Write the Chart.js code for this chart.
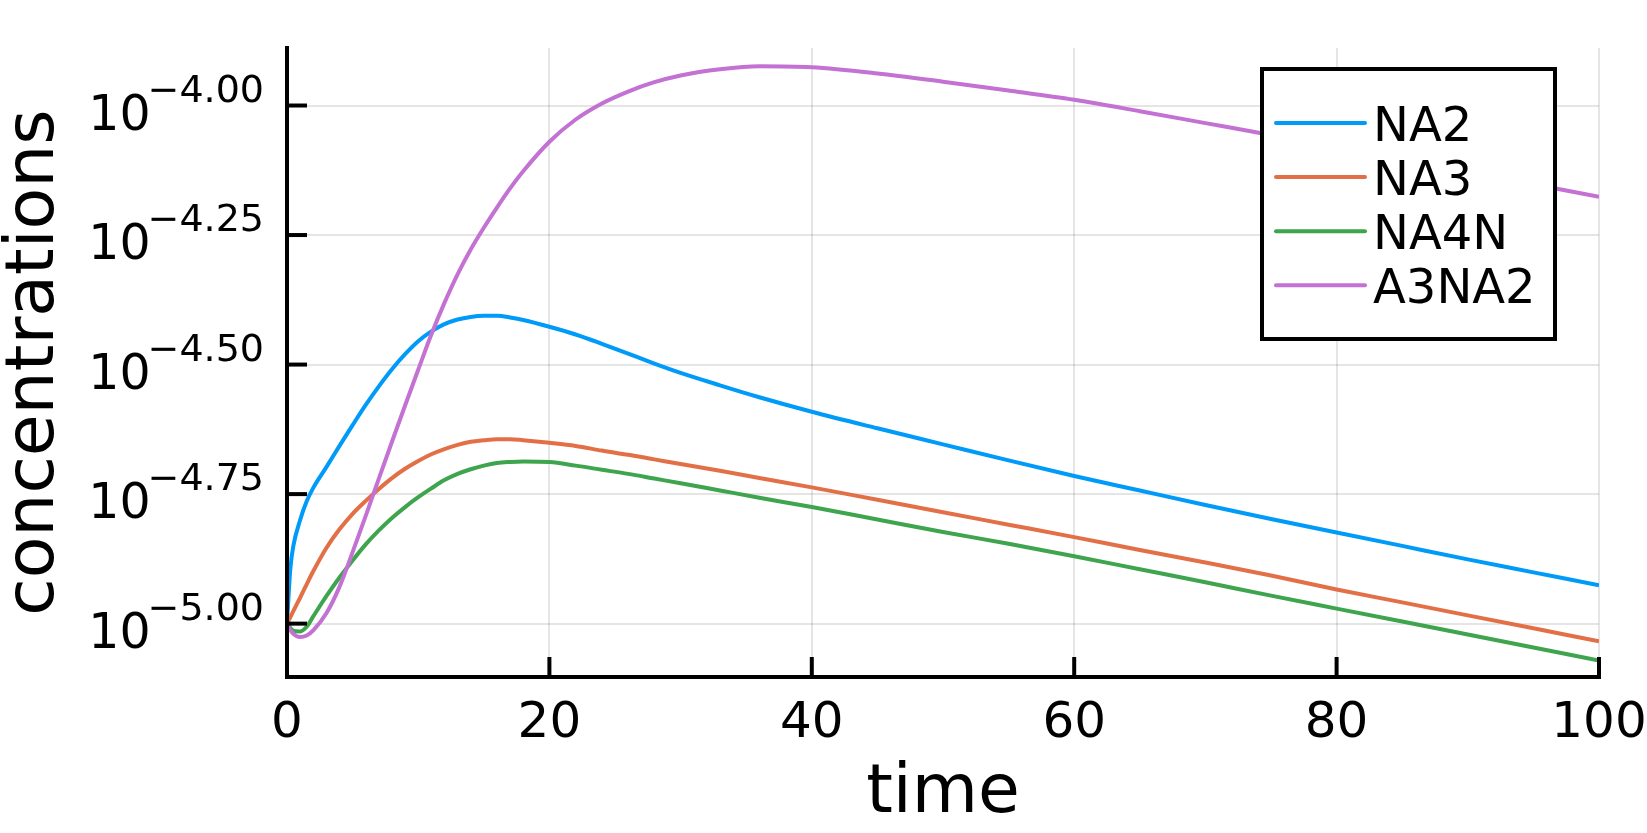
<!DOCTYPE html>
<html>
<head>
<meta charset="utf-8">
<script src="https://cdn.jsdelivr.net/npm/chart.js@4.4.1/dist/chart.umd.min.js"></script>
<style>
  html, body { margin: 0; padding: 0; background: #fff; overflow: hidden; }
</style>
</head>
<body>
<canvas id="concChart" width="1647" height="833"></canvas>
<script>
// time points
const times = [0, 0.25, 0.5, 1, 1.5, 2, 3, 4, 5, 6, 7, 8, 9, 10, 11, 12, 13, 14, 15, 16, 17, 18,
  20, 22, 24, 26, 28, 30, 33, 36, 40, 45, 50, 55, 60, 65, 70, 75, 80, 85, 90, 95, 100];

// log10 of the concentrations (the y axis is logarithmic)
const na2Log10 = [-5.000, -4.895, -4.848, -4.800, -4.764, -4.738, -4.698, -4.657, -4.617, -4.578,
  -4.542, -4.509, -4.480, -4.455, -4.436, -4.422, -4.413, -4.408, -4.406, -4.406, -4.409, -4.414,
  -4.427, -4.442, -4.460, -4.479, -4.498, -4.516, -4.540, -4.563, -4.591, -4.623, -4.654, -4.685,
  -4.715, -4.743, -4.771, -4.798, -4.824, -4.850, -4.876, -4.901, -4.926];
const na3Log10 = [-5.000, -4.988, -4.975, -4.950, -4.924, -4.899, -4.854, -4.818, -4.788, -4.763,
  -4.740, -4.719, -4.701, -4.686, -4.673, -4.663, -4.655, -4.649, -4.646, -4.644, -4.644, -4.646,
  -4.651, -4.657, -4.666, -4.674, -4.683, -4.692, -4.705, -4.719, -4.737, -4.761, -4.785, -4.809,
  -4.833, -4.858, -4.882, -4.907, -4.934, -4.959, -4.984, -5.009, -5.034];
const na4nLog10 = [-5.000, -5.008, -5.014, -5.015, -5.006, -4.986, -4.947, -4.911, -4.878, -4.847,
  -4.820, -4.796, -4.775, -4.756, -4.739, -4.723, -4.711, -4.702, -4.695, -4.690, -4.688, -4.687,
  -4.688, -4.695, -4.703, -4.711, -4.720, -4.729, -4.743, -4.757, -4.775, -4.799, -4.823, -4.846,
  -4.870, -4.895, -4.920, -4.946, -4.971, -4.996, -5.021, -5.046, -5.071];
const a3na2Log10 = [-5.000, -5.012, -5.020, -5.026, -5.023, -5.013, -4.980, -4.929, -4.862, -4.792,
  -4.720, -4.649, -4.579, -4.510, -4.442, -4.381, -4.326, -4.278, -4.236, -4.197, -4.160, -4.127,
  -4.070, -4.027, -3.996, -3.973, -3.955, -3.942, -3.930, -3.924, -3.926, -3.938, -3.954, -3.971,
  -3.989, -4.011, -4.034, -4.057, -4.081, -4.104, -4.128, -4.152, -4.176];

const seriesNames = ['NA2', 'NA3', 'NA4N', 'A3NA2'];
const seriesColors = ['#009af9', '#e36f47', '#3ea44e', '#c371d2'];

// y axis ticks (exponents) and their superscript labels
const yTickExps = [-5, -4.75, -4.5, -4.25, -4];
const yTickLabels = ['\u22125.00', '\u22124.75', '\u22124.50', '\u22124.25', '\u22124.00'];
const yMinExp = -5.103;
const yMaxExp = -3.889;

const fontFamily = '"DejaVu Sans", sans-serif';

function toConc(arr) {
  return arr.map(e => Math.pow(10, e));
}

// axes, inner tick marks, labels, titles and the boxed legend
const decorations = {
  id: 'decorations',
  afterDatasetsDraw(chart) {
    const ctx = chart.ctx;
    const a = chart.chartArea;
    const xs = chart.scales.x;
    const ys = chart.scales.y;
    ctx.save();

    // tick marks pointing into the plot
    ctx.strokeStyle = '#000';
    ctx.lineWidth = 4;
    xs.ticks.forEach(t => {
      const px = xs.getPixelForValue(t.value);
      ctx.beginPath(); ctx.moveTo(px, a.bottom); ctx.lineTo(px, a.bottom - 20); ctx.stroke();
    });
    ys.ticks.forEach(t => {
      const py = ys.getPixelForValue(t.value);
      ctx.beginPath(); ctx.moveTo(a.left, py); ctx.lineTo(a.left + 20, py); ctx.stroke();
    });

    // spines
    ctx.lineCap = 'square';
    ctx.beginPath();
    ctx.moveTo(a.left, a.top);
    ctx.lineTo(a.left, a.bottom);
    ctx.lineTo(a.right, a.bottom);
    ctx.stroke();

    // x tick labels
    ctx.fillStyle = '#000';
    ctx.textBaseline = 'alphabetic';
    ctx.textAlign = 'center';
    ctx.font = '50px ' + fontFamily;
    xs.ticks.forEach(t => {
      ctx.fillText(String(t.value), xs.getPixelForValue(t.value), a.bottom + 60);
    });

    // y tick labels: 10 with a raised exponent
    ys.ticks.forEach(t => {
      const py = ys.getPixelForValue(t.value);
      const supRight = a.left - 23;
      ctx.textAlign = 'right';
      ctx.font = '38px ' + fontFamily;
      ctx.fillText(t.label, supRight, py - 4);
      const supW = ctx.measureText(t.label).width;
      ctx.font = '49px ' + fontFamily;
      ctx.fillText('10', supRight - supW + 3, py + 24);
    });

    // axis titles
    ctx.textAlign = 'center';
    ctx.font = '68px ' + fontFamily;
    ctx.fillText('time', (a.left + a.right) / 2, a.bottom + 135);
    ctx.save();
    ctx.translate(53, (a.top + a.bottom) / 2);
    ctx.rotate(-Math.PI / 2);
    ctx.fillText('concentrations', 0, 0);
    ctx.restore();

    // legend
    const boxL = a.right - 337, boxT = a.top + 21, boxW = 293, boxH = 270;
    ctx.fillStyle = '#fff';
    ctx.fillRect(boxL, boxT, boxW, boxH);
    ctx.lineCap = 'butt';
    ctx.strokeStyle = '#000';
    ctx.lineWidth = 4;
    ctx.strokeRect(boxL, boxT, boxW, boxH);
    ctx.font = '48px ' + fontFamily;
    ctx.textAlign = 'left';
    chart.data.datasets.forEach((ds, i) => {
      const rowY = boxT + 54 + i * 54.1;
      ctx.strokeStyle = ds.borderColor;
      ctx.lineWidth = 4;
      ctx.lineCap = 'round';
      ctx.beginPath(); ctx.moveTo(boxL + 14, rowY); ctx.lineTo(boxL + 103, rowY); ctx.stroke();
      ctx.fillStyle = '#000';
      ctx.fillText(ds.label, boxL + 111, rowY + 18);
    });

    ctx.restore();
  }
};

const gridStyle = { color: 'rgba(0,0,0,0.1)', lineWidth: 2, drawTicks: false };
const seriesLog10 = [na2Log10, na3Log10, na4nLog10, a3na2Log10];

const ctx = document.getElementById('concChart').getContext('2d');
const concChart = new Chart(ctx, {
  type: 'line',
  data: {
    labels: times,
    datasets: seriesNames.map((name, i) => ({
      label: name,
      data: toConc(seriesLog10[i]),
      borderColor: seriesColors[i],
      backgroundColor: seriesColors[i],
      borderWidth: 4,
      pointRadius: 0,
      fill: false,
      cubicInterpolationMode: 'monotone',
      order: seriesNames.length - i // later series on top, like the original
    }))
  },
  options: {
    responsive: false,
    devicePixelRatio: 1,
    animation: false,
    events: [],
    layout: { padding: { left: 0, top: 48, right: 48, bottom: 0 } },
    plugins: {
      legend: { display: false },
      tooltip: { enabled: false }
    },
    scales: {
      x: {
        type: 'linear',
        min: 0,
        max: 100,
        ticks: { stepSize: 20, display: false },
        grid: gridStyle,
        border: { display: false },
        afterFit(scale) { scale.height = 156; }
      },
      y: {
        type: 'logarithmic',
        min: Math.pow(10, yMinExp),
        max: Math.pow(10, yMaxExp),
        afterBuildTicks(scale) {
          scale.ticks = yTickExps.map(e => ({ value: Math.pow(10, e) }));
        },
        ticks: { display: false, callback: (v, i) => yTickLabels[i] },
        grid: gridStyle,
        border: { display: false },
        afterFit(scale) { scale.width = 287; }
      }
    }
  },
  plugins: [decorations]
});
</script>
</body>
</html>
